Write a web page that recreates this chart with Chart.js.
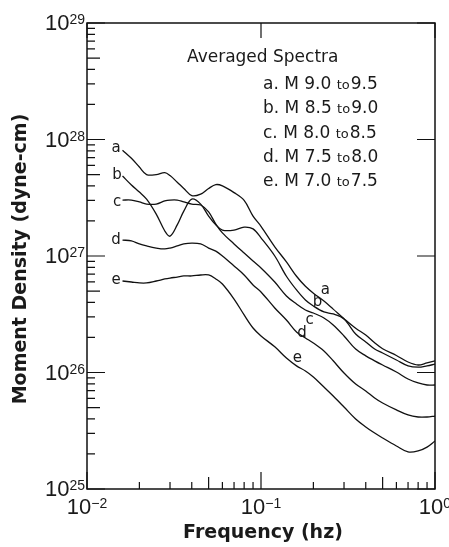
<!DOCTYPE html>
<html>
<head>
<meta charset="utf-8">
<script src="https://cdn.jsdelivr.net/npm/chart.js@4.4.1/dist/chart.umd.min.js"></script>
<style>
  html, body { margin: 0; padding: 0; background: #fff; }
</style>
</head>
<body>
<canvas id="chart" width="449" height="547"></canvas>
<script>
// frequency (hz) at which each curve was read
const freqs = [0.016, 0.018, 0.02, 0.022, 0.025, 0.028, 0.03, 0.033, 0.036, 0.04,
  0.045, 0.05, 0.055, 0.06, 0.07, 0.08, 0.09, 0.1, 0.12, 0.14,
  0.16, 0.18, 0.2, 0.23, 0.26, 0.3, 0.35, 0.4, 0.45, 0.5,
  0.6, 0.7, 0.8, 0.9, 1.0];

// moment density (dyne-cm)
const specA = [8.1e27, 6.9e27, 5.8e27, 5.0e27, 5.0e27, 5.2e27, 4.9e27, 4.3e27, 3.8e27, 3.3e27,
  3.4e27, 3.8e27, 4.1e27, 4.0e27, 3.5e27, 3.0e27, 2.2e27, 1.8e27, 1.2e27, 8.9e26,
  6.7e26, 5.5e26, 4.8e26, 4.1e26, 3.5e26, 2.9e26, 2.4e26, 2.1e26, 1.8e26, 1.6e26,
  1.4e26, 1.23e26, 1.16e26, 1.21e26, 1.26e26];
const specB = [4.86e27, 4.07e27, 3.54e27, 3.08e27, 2.29e27, 1.64e27, 1.48e27, 1.85e27, 2.43e27, 3.08e27,
  2.79e27, 2.2e27, 1.85e27, 1.67e27, 1.67e27, 1.77e27, 1.71e27, 1.43e27, 1.0e27, 6.7e26,
  5.11e26, 4.19e26, 3.72e26, 3.31e26, 3.18e26, 2.88e26, 2.14e26, 1.83e26, 1.59e26, 1.47e26,
  1.28e26, 1.14e26, 1.11e26, 1.14e26, 1.18e26];
const specC = [3.02e27, 3.02e27, 2.91e27, 2.79e27, 2.79e27, 2.97e27, 3.02e27, 3.02e27, 2.91e27, 2.79e27,
  2.74e27, 2.39e27, 1.88e27, 1.58e27, 1.27e27, 1.06e27, 9.06e26, 7.89e26, 5.98e26, 4.54e26,
  3.87e26, 3.44e26, 3.24e26, 2.94e26, 2.56e26, 2.06e26, 1.59e26, 1.39e26, 1.26e26, 1.16e26,
  1.01e26, 8.79e25, 8.13e25, 7.81e25, 7.81e25];
const specD = [1.37e27, 1.35e27, 1.27e27, 1.22e27, 1.17e27, 1.15e27, 1.17e27, 1.22e27, 1.27e27, 1.29e27,
  1.27e27, 1.17e27, 1.1e27, 1.0e27, 8.21e26, 6.87e26, 5.64e26, 4.91e26, 3.58e26, 2.82e26,
  2.23e26, 1.98e26, 1.79e26, 1.53e26, 1.26e26, 9.9e25, 7.96e25, 6.94e25, 6.04e25, 5.47e25,
  4.77e25, 4.32e25, 4.15e25, 4.15e25, 4.23e25];
const specE = [6.1e26, 5.98e26, 5.87e26, 5.87e26, 6.1e26, 6.35e26, 6.47e26, 6.6e26, 6.74e26, 6.74e26,
  6.87e26, 6.87e26, 6.35e26, 5.75e26, 4.27e26, 3.12e26, 2.41e26, 2.06e26, 1.66e26, 1.33e26,
  1.14e26, 1.03e26, 9.15e25, 7.51e25, 6.29e25, 5.06e25, 3.99e25, 3.41e25, 3.02e25, 2.74e25,
  2.34e25, 2.08e25, 2.12e25, 2.29e25, 2.58e25];

const curveNames = ['a', 'b', 'c', 'd', 'e'];
const legendTitle = 'Averaged Spectra';
const legendRows = [
  ['a. M 9.0', 'to', '9.5'],
  ['b. M 8.5', 'to', '9.0'],
  ['c. M 8.0', 'to', '8.5'],
  ['d. M 7.5', 'to', '8.0'],
  ['e. M 7.0', 'to', '7.5'],
];
const xTickExps = [-2, -1, 0];
const yTickExps = [25, 26, 27, 28, 29];

// where the small curve letters sit (freq, moment)
const leftTags = [[0.0147, 8.45e27], [0.0149, 4.96e27], [0.0149, 2.91e27], [0.0147, 1.37e27], [0.0147, 6.22e26]];
const rightTags = [[0.234, 5.1e26], [0.211, 4.03e26], [0.19, 2.82e26], [0.172, 2.18e26], [0.162, 1.33e26]];

const allSpecs = [specA, specB, specC, specD, specE];

const drawPow = (ctx, exp, x, y, align) => {
  const base = '10';
  const sup = String(exp).replace('-', '\u2212');
  ctx.font = '22px "Liberation Sans"';
  const wb = ctx.measureText(base).width;
  ctx.font = '14px "Liberation Sans"';
  const ws = ctx.measureText(sup).width;
  let x0 = align === 'right' ? x - wb - ws : x - (wb + ws) / 2;
  ctx.textAlign = 'left';
  ctx.textBaseline = 'middle';
  ctx.font = '22px "Liberation Sans"';
  ctx.fillText(base, x0, y + 1);
  ctx.textBaseline = 'alphabetic';
  ctx.font = '14px "Liberation Sans"';
  ctx.fillText(sup, x0 + wb, y + 1);
};

const frame = {
  id: 'frame',
  afterDatasetsDraw(chart) {
    const { ctx, chartArea: a, scales: { x, y } } = chart;
    ctx.save();
    ctx.strokeStyle = '#111';
    ctx.fillStyle = '#1a1a1a';
    ctx.lineWidth = 1.5;
    ctx.strokeRect(a.left, a.top, a.right - a.left, a.bottom - a.top);

    // inward ticks: full set on bottom and left, decades only on top and right
    ctx.lineWidth = 1.2;
    ctx.beginPath();
    for (let e = xTickExps[0]; e < xTickExps[xTickExps.length - 1]; e++) {
      for (let m = 1; m <= 10; m++) {
        const px = x.getPixelForValue(m * Math.pow(10, e));
        const len = (m === 1 || m === 10) ? 17 : (m === 5 ? 12 : 7);
        ctx.moveTo(px, a.bottom); ctx.lineTo(px, a.bottom - len);
        if (m === 1 || m === 10) { ctx.moveTo(px, a.top); ctx.lineTo(px, a.top + 15); }
      }
    }
    for (let e = yTickExps[0]; e < yTickExps[yTickExps.length - 1]; e++) {
      for (let m = 1; m <= 10; m++) {
        const py = y.getPixelForValue(m * Math.pow(10, e));
        const len = (m === 1 || m === 10) ? 18 : (m === 5 ? 13 : 8);
        ctx.moveTo(a.left, py); ctx.lineTo(a.left + len, py);
        if (m === 1 || m === 10) { ctx.moveTo(a.right, py); ctx.lineTo(a.right - 18, py); }
      }
    }
    ctx.stroke();

    // tick labels
    xTickExps.forEach(e => drawPow(ctx, e, x.getPixelForValue(Math.pow(10, e)), a.bottom + 18, 'center'));
    yTickExps.forEach(e => drawPow(ctx, e, a.left - 2, y.getPixelForValue(Math.pow(10, e)), 'right'));

    // axis titles
    ctx.font = 'bold 19px "DejaVu Sans"';
    ctx.textAlign = 'center';
    ctx.textBaseline = 'middle';
    ctx.fillText('Frequency (hz)', (x.getPixelForValue(0.01) + x.getPixelForValue(1)) / 2 + 2, 533);
    ctx.save();
    ctx.translate(21, 259);
    ctx.rotate(-Math.PI / 2);
    ctx.fillText('Moment Density (dyne-cm)', 0, 0);
    ctx.restore();

    // in-plot legend text
    ctx.textAlign = 'left';
    ctx.textBaseline = 'alphabetic';
    ctx.font = '17px "DejaVu Sans"';
    ctx.fillText(legendTitle, 187, 62);
    legendRows.forEach((r, i) => {
      const ry = 89 + i * 24.3;
      let cx = 263;
      ctx.font = '17px "DejaVu Sans"';
      ctx.fillText(r[0] + ' ', cx, ry);
      cx += ctx.measureText(r[0] + ' ').width;
      ctx.font = '13px "DejaVu Sans"';
      ctx.fillText(r[1], cx, ry);
      cx += ctx.measureText(r[1]).width + 1;
      ctx.font = '17px "DejaVu Sans"';
      ctx.fillText(r[2], cx, ry);
    });

    // curve letters
    ctx.font = '15px "DejaVu Sans"';
    ctx.textAlign = 'center';
    ctx.textBaseline = 'middle';
    curveNames.forEach((n, i) => {
      ctx.fillText(n, x.getPixelForValue(leftTags[i][0]), y.getPixelForValue(leftTags[i][1]));
      ctx.fillText(n, x.getPixelForValue(rightTags[i][0]), y.getPixelForValue(rightTags[i][1]));
    });
    ctx.restore();
  }
};

new Chart(document.getElementById('chart'), {
  type: 'line',
  data: {
    datasets: allSpecs.map((s, i) => ({
      label: curveNames[i],
      data: s.map((v, k) => ({ x: freqs[k], y: v })),
      borderColor: '#111',
      borderWidth: 1.3,
      pointRadius: 0,
      tension: 0.35,
      fill: false,
    })),
  },
  options: {
    responsive: false,
    animation: false,
    layout: { padding: { left: 87, right: 14, top: 23, bottom: 58 } },
    plugins: { legend: { display: false }, tooltip: { enabled: false } },
    scales: {
      x: { type: 'logarithmic', min: 0.01, max: 1, display: false },
      y: { type: 'logarithmic', min: 1e25, max: 1e29, display: false },
    },
  },
  plugins: [frame],
});
</script>
</body>
</html>
